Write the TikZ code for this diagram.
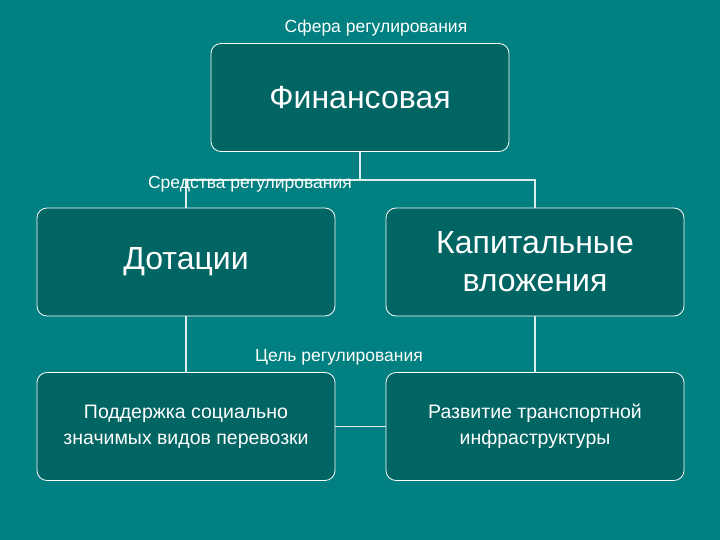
\documentclass[tikz,border=0pt]{standalone}
\usepackage{fontspec}
\setmainfont{Liberation Sans}
\definecolor{bg}{HTML}{008080}
\definecolor{boxc}{HTML}{006563}
\begin{document}
\begin{tikzpicture}[x=1pt,y=-1pt,
  box/.style={draw=white,line width=0.8pt,fill=boxc,rounded corners=10pt,minimum width=298pt,minimum height=108pt,text=white,align=center},
  big/.style={font=\fontsize{32}{38}\selectfont},
  small/.style={font=\fontsize{19.5}{26}\selectfont},
  lbl/.style={text=white,font=\fontsize{17.5}{20}\selectfont},
  conn/.style={draw=white!85!bg,line width=1.2pt}]
\fill[bg] (0,0) rectangle (720,540);
\useasboundingbox (0,0) rectangle (720,540);
\node[box,big] (fin) at (360,97.5) {Финансовая};
\node[box,big] (dot) at (186,262) {Дотации};
\node[box,big] (kap) at (535,262) {Капитальные\\вложения};
\node[box,small] (pod) at (186,426.5) {Поддержка социально\\значимых видов перевозки};
\node[box,small] (raz) at (535,426.5) {Развитие транспортной\\инфраструктуры};
\coordinate (j) at (360,180);
\draw[conn] (fin.south) -- (j);
\draw[conn] (dot.north) |- (j) -| (kap.north);
\draw[conn] (dot.south) -- (pod.north);
\draw[conn] (kap.south) -- (raz.north);
\draw[conn] (pod.east) -- (raz.west);
\node[lbl] (l1) at (376,28) {Сфера регулирования};
\node[lbl] (l2) at (250,184) {Средства регулирования};
\node[lbl] (l3) at (339,357) {Цель регулирования};
\end{tikzpicture}
\end{document}
